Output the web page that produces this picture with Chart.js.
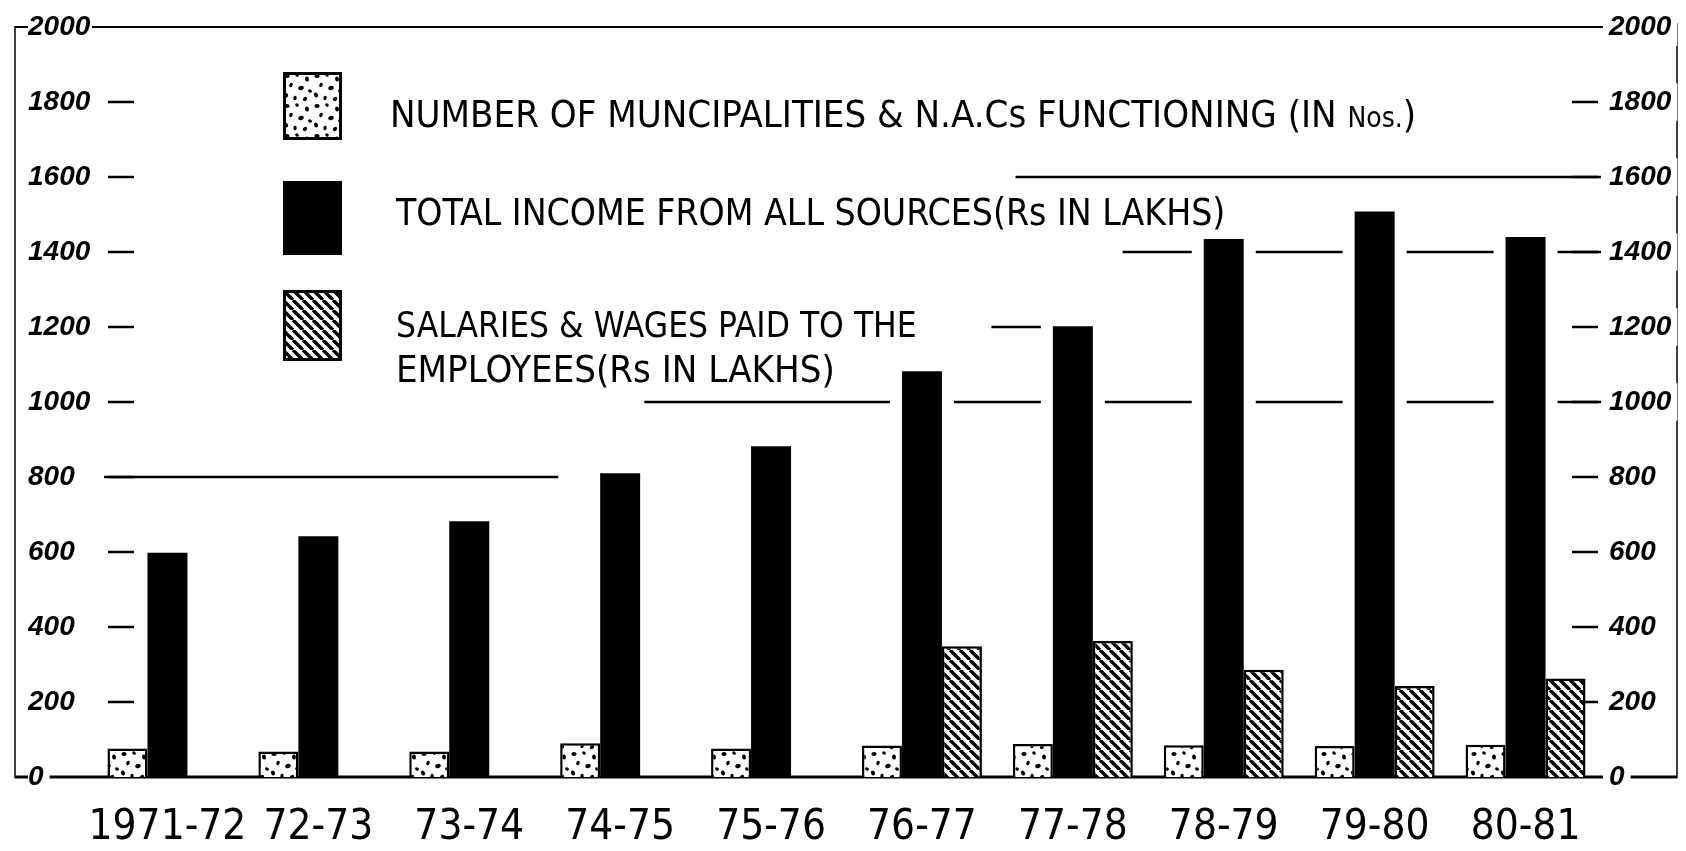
<!DOCTYPE html>
<html>
<head>
<meta charset="utf-8">
<script src="https://cdn.jsdelivr.net/npm/chart.js@4.4.1/dist/chart.umd.min.js"></script>
<style>
  html, body { margin: 0; padding: 0; background: #fff; }
  #wrap { position: relative; width: 1686px; height: 851px; }
  #legend { position: absolute; left: 0; top: 0; }
  #legend canvas { position: absolute; left: 283px; }
  #legend .txt {
    position: absolute; white-space: nowrap; color: #000;
    font-family: 'Liberation Sans Narrow', 'DejaVu Sans Condensed', 'Liberation Sans', sans-serif;
    font-size: 38px; line-height: 38px;
  }
</style>
</head>
<body>
<div id="wrap">
  <canvas id="myChart"></canvas>
  <div id="legend">
    <canvas id="sw0" width="59" height="68" style="top:72px"></canvas>
    <canvas id="sw1" width="59" height="74" style="top:181px"></canvas>
    <canvas id="sw2" width="59" height="71" style="top:290px"></canvas>
    <div class="txt" style="left:390px;top:95px">NUMBER OF MUNCIPALITIES &amp; N.A.Cs FUNCTIONING (IN <span style="font-size:28px">Nos.</span>)</div>
    <div class="txt" style="left:396px;top:194px;font-size:37px">TOTAL INCOME FROM ALL SOURCES(Rs IN LAKHS)</div>
    <div class="txt" style="left:396px;top:306px;font-size:35px">SALARIES &amp; WAGES PAID TO THE</div>
    <div class="txt" style="left:396px;top:350px">EMPLOYEES(Rs IN LAKHS)</div>
  </div>
</div>
<script>
// data
const years = ['1971-72', '72-73', '73-74', '74-75', '75-76', '76-77', '77-78', '78-79', '79-80', '80-81'];
const municipalities = [76, 68, 68, 90, 76, 84, 88, 85, 83, 86];
const totalIncome = [598, 642, 682, 810, 882, 1082, 1202, 1435, 1508, 1440];
const salaries = [null, null, null, null, null, 349, 363, 286, 243, 263];
const yMin = 0, yMax = 2000, yStep = 200;

// hand drawn grid pieces, in category units (they stop at the legend and around tall bars)
const gridSegments = [
    {value: 800, from: -0.42, to: 2.59},
    {value: 1000, from: 3.16, to: 9.5},
    {value: 1200, from: 5.46, to: 5.8},
    {value: 1400, from: 6.33, to: 9.5},
    {value: 1600, from: 5.62, to: 9.5}
];

const FONT = "'Liberation Sans Narrow', 'DejaVu Sans Condensed', 'Liberation Sans', sans-serif";
const DOTS = [[4, 4, 2.6], [14, 3, 2], [24, 7, 2.6], [8, 13, 2.2], [18, 16, 2.8], [27, 19, 2],
              [3, 23, 2.6], [12, 26, 2.2], [22, 27, 2.4]];

function dotPattern(ctx) {
    const c = document.createElement('canvas');
    c.width = 30; c.height = 30;
    const g = c.getContext('2d');
    g.fillStyle = '#fff';
    g.fillRect(0, 0, 30, 30);
    g.fillStyle = '#000';
    DOTS.forEach(([x, y, r], i) => {
        g.beginPath();
        g.ellipse(x, y, r, r * 0.75, i * 0.7, 0, Math.PI * 2);
        g.fill();
    });
    return ctx.createPattern(c, 'repeat');
}

function hatchPattern(ctx) {
    const s = 10;
    const c = document.createElement('canvas');
    c.width = s; c.height = s;
    const g = c.getContext('2d');
    g.fillStyle = '#fff';
    g.fillRect(0, 0, s, s);
    g.strokeStyle = '#000';
    g.lineWidth = 3.4;
    [-s, 0, s].forEach((x0) => {
        g.beginPath();
        g.moveTo(x0, 0);
        g.lineTo(x0 + s, s);
        g.stroke();
    });
    return ctx.createPattern(c, 'repeat');
}

function line(ctx, x1, y1, x2, y2) {
    ctx.beginPath();
    ctx.moveTo(x1, y1);
    ctx.lineTo(x2, y2);
    ctx.stroke();
}

const framePlugin = {
    id: 'frame',
    beforeDraw(chart) {
        const {ctx, chartArea, scales} = chart;
        const yL = scales.y, yR = scales.y2, x = scales.x;
        const top = yL.getPixelForValue(yMax), bottom = yL.getPixelForValue(yMin);
        const leftX = 15, rightX = yR.right - 9;
        ctx.save();
        ctx.strokeStyle = '#000';
        ctx.lineCap = 'butt';

        ctx.lineWidth = 1.5;
        line(ctx, leftX, top - 1, leftX, bottom + 1);
        line(ctx, rightX, top - 4, rightX, bottom + 1);
        ctx.lineWidth = 2;
        line(ctx, leftX, top, rightX, top);
        ctx.lineWidth = 3;
        line(ctx, leftX, bottom, rightX, bottom);

        // grid pieces with gaps round the bars that rise through them
        ctx.lineWidth = 2.5;
        gridSegments.forEach((seg) => {
            const y = yL.getPixelForValue(seg.value);
            const blocked = [];
            chart.data.datasets.forEach((ds, di) => {
                chart.getDatasetMeta(di).data.forEach((bar, i) => {
                    if (ds.data[i] != null && ds.data[i] > seg.value) {
                        blocked.push([bar.x - bar.width / 2 - 12, bar.x + bar.width / 2 + 12]);
                    }
                });
            });
            blocked.sort((a, b) => a[0] - b[0]);
            let start = x.getPixelForValue(seg.from);
            const end = x.getPixelForValue(seg.to);
            blocked.forEach(([b0, b1]) => {
                if (b1 < start || b0 > end) return;
                if (b0 > start) line(ctx, start, y, Math.min(b0, end), y);
                start = Math.max(start, b1);
            });
            if (start < end) line(ctx, start, y, end, y);
        });

        // short tick dashes inside the frame
        for (let v = yMin + yStep; v < yMax; v += yStep) {
            const y = yL.getPixelForValue(v);
            line(ctx, chartArea.left + 16, y, chartArea.left + 42, y);
            line(ctx, chartArea.right - 29, y, chartArea.right - 3, y);
        }
        ctx.restore();
    }
};

$ = (id) => document.getElementById(id);
const ctx = $('myChart').getContext('2d');

const yTicks = {
    stepSize: yStep,
    color: '#000',
    font: {family: "'Liberation Sans', sans-serif", size: 28, style: 'italic', weight: 'bold'},
    callback: (v) => String(v),
    showLabelBackdrop: true,
    backdropColor: '#fff',
    backdropPadding: {x: 6, y: 2}
};

const gChart = new Chart(ctx, {
    type: 'bar',
    data: {
        labels: years,
        datasets: [
            {label: 'NUMBER OF MUNCIPALITIES & N.A.Cs FUNCTIONING (IN Nos.)', data: municipalities,
             backgroundColor: dotPattern(ctx), borderColor: '#000', borderWidth: 2.5, yAxisID: 'y'},
            {label: 'TOTAL INCOME FROM ALL SOURCES(Rs IN LAKHS)', data: totalIncome,
             backgroundColor: '#000', borderColor: '#000', borderWidth: 0, yAxisID: 'y'},
            {label: 'SALARIES & WAGES PAID TO THE EMPLOYEES(Rs IN LAKHS)', data: salaries,
             backgroundColor: hatchPattern(ctx), borderColor: '#000', borderWidth: 2.5, yAxisID: 'y'}
        ]
    },
    options: {
        responsive: true,
        maintainAspectRatio: false,
        animation: false,
        categoryPercentage: 0.795,
        barPercentage: 1.0,
        layout: {padding: {left: 28, right: 0, top: 27, bottom: 0}},
        plugins: {legend: {display: false}, tooltip: {enabled: false}},
        scales: {
            x: {
                grid: {display: false, drawTicks: false},
                border: {display: false},
                ticks: {color: '#000', padding: 26, maxRotation: 0, autoSkip: false,
                        font: {family: FONT, size: 42}},
                afterFit: (scale) => { scale.height = 74; }
            },
            y: {
                position: 'left', min: yMin, max: yMax,
                grid: {display: false, drawTicks: false},
                border: {display: false},
                ticks: Object.assign({crossAlign: 'far', padding: 0}, yTicks),
                afterFit: (scale) => { scale.width = 64; }
            },
            y2: {
                position: 'right', min: yMin, max: yMax,
                grid: {display: false, drawTicks: false},
                border: {display: false},
                ticks: Object.assign({padding: 8}, yTicks),
                afterFit: (scale) => { scale.width = 85; }
            }
        }
    },
    plugins: [framePlugin]
});

// legend swatches
[dotPattern, (c) => '#000', hatchPattern].forEach((fill, i) => {
    const cv = $('sw' + i);
    const g = cv.getContext('2d');
    g.fillStyle = fill(g);
    g.fillRect(0, 0, cv.width, cv.height);
    g.strokeStyle = '#000';
    g.lineWidth = 3;
    g.strokeRect(1.5, 1.5, cv.width - 3, cv.height - 3);
});
</script>
</body>
</html>
